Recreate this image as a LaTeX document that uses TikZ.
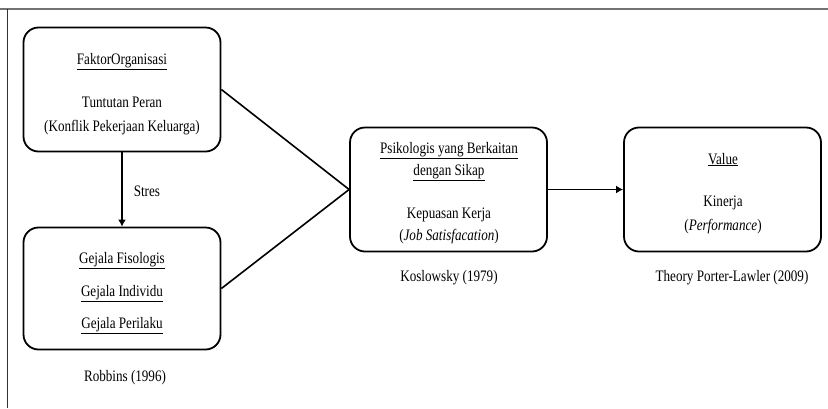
\documentclass[tikz,border=0pt]{standalone}
\usepackage{fontspec}
\setmainfont{Liberation Serif}[FakeStretch=0.82]
\usetikzlibrary{arrows.meta}
\tikzset{
  box/.style={draw=black, line width=1.8pt, rounded corners=15pt, minimum width=197pt, minimum height=124pt, inner sep=0pt},
  txt/.style={anchor=base, inner sep=0pt, font=\fontsize{16}{19}\selectfont},
  conn/.style={line width=1.6pt, draw=black},
  arr/.style={conn, -{Latex[length=7pt,width=8pt]}},
}
\begin{document}
\begin{tikzpicture}[x=1pt,y=-1pt]
\useasboundingbox (0,0) rectangle (828,408);
% frame
\draw[draw=gray!90!black, line width=2pt] (0,8.5) -- (828,8.5);
\draw[draw=black!80, line width=1pt] (7.5,8.5) -- (7.5,408);
% boxes
\node[box, minimum height=124pt] (b1) at (122,89.5) {};
\node[box, minimum height=122pt] (b2) at (122,288.5) {};
\node[box] (b3) at (448.5,189.5) {};
\node[box] (b4) at (722.5,189.5) {};
% texts box 1
\node[txt] (t11) at (122,64) {\underline{FaktorOrganisasi}};
\node[txt] (t12) at (122,107.5) {Tuntutan Peran};
\node[txt] (t13) at (122,131.5) {(Konflik Pekerjaan Keluarga)};
% texts box 2
\node[txt] (t21) at (122,263) {\underline{Gejala Fisologis}};
\node[txt] (t22) at (122,296.5) {\underline{Gejala Individu}};
\node[txt] (t23) at (122,328) {\underline{Gejala Perilaku}};
\node[txt] (r2) at (125,381) {Robbins (1996)};
% texts box 3
\node[txt] (t31) at (449,153) {\underline{Psikologis yang Berkaitan}};
\node[txt] (t32) at (449,175) {\underline{dengan Sikap}};
\node[txt] (t33) at (449,218) {Kepuasan Kerja};
\node[txt] (t34) at (449,240) {(\textit{Job Satisfacation})};
\node[txt] (r3) at (449,281) {Koslowsky (1979)};
% texts box 4
\node[txt] (t41) at (723,164) {\underline{Value}};
\node[txt] (t42) at (723,206.5) {Kinerja};
\node[txt] (t43) at (723,230) {(\textit{Performance})};
\node[txt] (r4) at (732,281) {Theory Porter-Lawler (2009)};
% connectors
\draw[arr] (b1.south) -- node[txt, anchor=base west, xshift=11pt, yshift=-6.5pt] (stres) {Stres} (b2.north);
\draw[conn] (b1.east) -- (b3.west);
\draw[conn] (b2.east) -- (b3.west);
\draw[arr] (b3.east) -- (b4.west);
\end{tikzpicture}
\end{document}
